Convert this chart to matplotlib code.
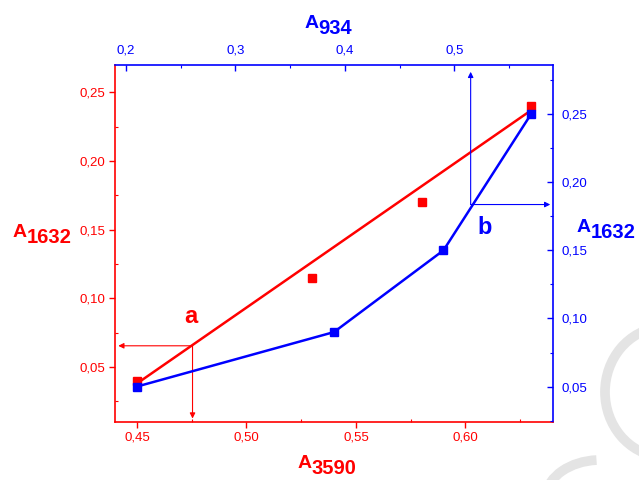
import numpy as np
import matplotlib
matplotlib.use("Agg")
from matplotlib import pyplot as plt
from matplotlib.ticker import FuncFormatter, MultipleLocator
from matplotlib.patches import Arc

plt.rcParams['font.family'] = ['Liberation Sans', 'DejaVu Sans']

# red data set: A3590 (bottom) vs A1632 (left)
red_x = [0.45, 0.53, 0.58, 0.63]
red_y = [0.040, 0.115, 0.170, 0.240]
# straight line drawn through the red points
fit_x = [0.45, 0.63]
fit_y = [0.038, 0.237]

# blue data set: A934 (top) vs A1632 (right)
blue_x = [0.21, 0.39, 0.49, 0.57]
blue_y = [0.050, 0.090, 0.150, 0.250]

# reading guides
a_point = (0.4754, 0.0655)
b_point = (0.5148, 0.1836)

W, H = 639, 480
fig = plt.figure(figsize=(W / 100, H / 100), dpi=100)
pos = [115 / W, 1 - 422 / H, (553 - 115) / W, (422 - 65) / H]
ax = fig.add_axes(pos)
ax2 = fig.add_axes(pos, frameon=False)


def comma(decimals):
    return FuncFormatter(lambda v, p: f"{v:.{decimals}f}".replace('.', ','))


# bottom / left axes (red)
ax.plot(fit_x, fit_y, color='red', lw=1.8, zorder=2)
ax.plot(red_x, red_y, 's', color='red', ms=5.5, zorder=3)
ax.set_xlim(0.44, 0.64)
ax.set_ylim(0.01, 0.27)
ax.xaxis.set_major_locator(MultipleLocator(0.05))
ax.xaxis.set_minor_locator(MultipleLocator(0.025))
ax.yaxis.set_major_locator(MultipleLocator(0.05))
ax.yaxis.set_minor_locator(MultipleLocator(0.025))
ax.xaxis.set_major_formatter(comma(2))
ax.yaxis.set_major_formatter(comma(2))
ax.tick_params(which='major', direction='out', length=4, width=1, colors='red',
               labelsize=9.5, pad=3)
ax.tick_params(which='minor', direction='in', length=2.5, width=0.8, colors='red')
ax.tick_params(top=False, right=False, which='both')
for s in ['left', 'bottom']:
    ax.spines[s].set_color('red')
for s in ['top', 'right']:
    ax.spines[s].set_color('blue')
for s in ax.spines.values():
    s.set_linewidth(1.2)

# top / right axes (blue)
ax2.plot(blue_x, blue_y, '-s', color='blue', lw=1.8, ms=5.5, zorder=3)
ax2.set_xlim(0.19, 0.59)
ax2.set_ylim(0.024, 0.286)
ax2.xaxis.tick_top()
ax2.yaxis.tick_right()
ax2.xaxis.set_major_locator(MultipleLocator(0.1))
ax2.xaxis.set_minor_locator(MultipleLocator(0.05))
ax2.yaxis.set_major_locator(MultipleLocator(0.05))
ax2.yaxis.set_minor_locator(MultipleLocator(0.025))
ax2.xaxis.set_major_formatter(comma(1))
ax2.yaxis.set_major_formatter(comma(2))
ax2.tick_params(which='major', direction='in', length=4, width=1, colors='blue',
                labelsize=9.5, pad=6)
ax2.tick_params(which='minor', direction='in', length=2.5, width=0.8, colors='blue')

# arrows
arr_red = dict(arrowstyle='-|>', color='red', lw=0.8, mutation_scale=8, shrinkA=0, shrinkB=0)
ax.annotate('', xy=(0.4415, a_point[1]), xytext=a_point, arrowprops=arr_red)
ax.annotate('', xy=(a_point[0], 0.0125), xytext=a_point, arrowprops=arr_red)
ax.text(0.4745, 0.0865, 'a', color='red', fontsize=17, fontweight='bold',
        ha='center', va='center')

arr_blue = dict(arrowstyle='-|>', color='blue', lw=0.8, mutation_scale=8, shrinkA=0, shrinkB=0)
ax2.annotate('', xy=(b_point[0], 0.281), xytext=b_point, arrowprops=arr_blue)
ax2.annotate('', xy=(0.5875, b_point[1]), xytext=b_point, arrowprops=arr_blue)
ax2.text(0.5275, 0.1665, 'b', color='blue', fontsize=17, fontweight='bold',
         ha='center', va='center')


# axis titles: "A" with large lowered digits
def a_label(x, y, digits, color):
    fig.text(x / W, 1 - y / H, 'A', color=color, fontsize=14, fontweight='bold',
             ha='left', va='baseline')
    fig.text((x + 13.5) / W, 1 - (y + 6) / H, digits, color=color, fontsize=14.5,
             fontweight='bold', ha='left', va='baseline')


a_label(13, 237, '1632', 'red')
a_label(298, 468, '3590', 'red')
a_label(305, 28, '934', 'blue')
a_label(577, 232, '1632', 'blue')

# faint watermark in the lower right corner (display pixels, origin bottom-left)
fig.patches.append(Arc((665, H - 392), 120, 130, theta1=95, theta2=265, color='#e4e4e4',
                       lw=7, transform=None, zorder=-5))
fig.patches.append(Arc((600, H - 500), 110, 80, theta1=95, theta2=175, color='#e4e4e4',
                       lw=7, transform=None, zorder=-5))

fig.savefig('out.png', dpi=100)
